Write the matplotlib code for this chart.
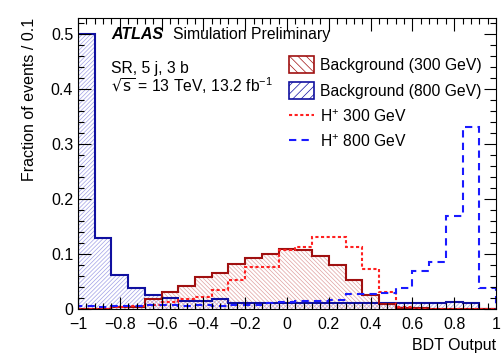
import numpy as np
import matplotlib
matplotlib.use('Agg')
import matplotlib.pyplot as plt
from matplotlib.patches import Patch
from matplotlib.lines import Line2D
from matplotlib.ticker import MultipleLocator

plt.rcParams['font.family'] = ['Liberation Sans', 'DejaVu Sans']
plt.rcParams['hatch.linewidth'] = 0.5

# 25 bins from -1 to 1
edges = np.linspace(-1, 1, 26)

bkg_800 = [0.500, 0.129, 0.062, 0.038, 0.025, 0.020, 0.015, 0.015, 0.018, 0.011,
           0.011, 0.010, 0.010, 0.011, 0.011, 0.010, 0.010, 0.011, 0.010, 0.010,
           0.011, 0.011, 0.013, 0.011, 0.0]
bkg_300 = [0.0, 0.0, 0.003, 0.003, 0.019, 0.031, 0.042, 0.058, 0.065, 0.082,
           0.092, 0.101, 0.110, 0.107, 0.096, 0.080, 0.053, 0.025, 0.009, 0.002,
           0.001, 0.0, 0.0, 0.0, 0.0]
sig_300 = [0.0, 0.0, 0.003, 0.005, 0.007, 0.012, 0.018, 0.022, 0.035, 0.053,
           0.076, 0.076, 0.107, 0.113, 0.131, 0.131, 0.113, 0.072, 0.031, 0.003,
           0.0, 0.0, 0.0, 0.0, 0.0]
sig_800 = [0.005, 0.004, 0.005, 0.006, 0.007, 0.007, 0.006, 0.007, 0.006, 0.007,
           0.008, 0.010, 0.012, 0.015, 0.015, 0.016, 0.027, 0.027, 0.030, 0.039,
           0.070, 0.086, 0.169, 0.331, 0.039]

red_dark = '#a01010'
blue_dark = '#1010a0'
red_light = '#e0a0a0'
blue_light = '#a0a0e6'

fig = plt.figure(figsize=(5.01, 3.6), dpi=100)
ax = fig.add_axes([0.1557, 0.1417, 0.8343, 0.8083])

# hatched fills
ax.stairs(bkg_800, edges, fill=True, facecolor='none', edgecolor=blue_light,
          hatch='////////', linewidth=0)
ax.stairs(bkg_300, edges, fill=True, facecolor='none', edgecolor=red_light,
          hatch='\\\\\\\\\\\\\\\\', linewidth=0)
# outlines
ax.stairs(bkg_800, edges, color=blue_dark, linewidth=1.5)
ax.stairs(bkg_300, edges, color=red_dark, linewidth=1.5)
ax.stairs(sig_300, edges, color='#ff2020', linewidth=1.5, linestyle=(0, (1.5, 1.2)))
ax.stairs(sig_800, edges, color='#1a1aff', linewidth=1.5, linestyle=(0, (3.5, 2.5)))

ax.set_xlim(-1, 1)
ax.set_ylim(0, 0.53)
ax.xaxis.set_major_locator(MultipleLocator(0.2))
ax.xaxis.set_minor_locator(MultipleLocator(0.04))
ax.yaxis.set_major_locator(MultipleLocator(0.1))
ax.yaxis.set_minor_locator(MultipleLocator(0.02))
ax.set_xticks([-1, -0.8, -0.6, -0.4, -0.2, 0, 0.2, 0.4, 0.6, 0.8, 1])
ax.set_xticklabels(['\u22121', '\u22120.8', '\u22120.6', '\u22120.4', '\u22120.2',
                    '0', '0.2', '0.4', '0.6', '0.8', '1'])
ax.set_yticks([0, 0.1, 0.2, 0.3, 0.4, 0.5])
ax.set_yticklabels(['0', '0.1', '0.2', '0.3', '0.4', '0.5'])
ax.tick_params(which='both', direction='in', top=True, right=True, labelsize=11.5)
ax.tick_params(which='major', length=9, width=0.8)
ax.tick_params(which='minor', length=4.5, width=0.8)
ax.tick_params(axis='x', pad=6)
for s in ax.spines.values():
    s.set_linewidth(0.8)

ax.set_xlabel('BDT Output', fontsize=11.5, loc='right', labelpad=4)
ax.set_ylabel('Fraction of events / 0.1', fontsize=11.5, loc='top', labelpad=10)

ax.text(0.08, 0.945, 'ATLAS', transform=ax.transAxes, fontsize=11.5,
        fontweight='bold', fontstyle='italic', va='center')
ax.text(0.228, 0.945, 'Simulation Preliminary', transform=ax.transAxes,
        fontsize=11.3, va='center')
ax.text(0.08, 0.828, 'SR, 5 j, 3 b', transform=ax.transAxes, fontsize=11.3,
        va='center')
ax.text(0.08, 0.766, r'$\sqrt{\mathrm{s}}$ = 13 TeV, 13.2 fb$^{\mathregular{-1}}$',
        transform=ax.transAxes, fontsize=11.3, va='center')

handles = [
    Patch(facecolor='white', edgecolor=red_dark, hatch='\\\\\\\\', linewidth=1.2),
    Patch(facecolor='white', edgecolor=blue_dark, hatch='////', linewidth=1.2),
    Line2D([], [], color='#ff2020', linewidth=1.5, linestyle=(0, (1.5, 1.2))),
    Line2D([], [], color='#1a1aff', linewidth=1.5, linestyle=(0, (3.5, 2.5))),
]
labels = ['Background (300 GeV)', 'Background (800 GeV)',
          r'H$^{\mathregular{+}}$ 300 GeV', r'H$^{\mathregular{+}}$ 800 GeV']
ax.legend(handles, labels, loc='upper left', bbox_to_anchor=(0.49, 0.89),
          frameon=False, fontsize=11.3, handlelength=1.6, handleheight=1.3,
          handletextpad=0.4, labelspacing=0.55, borderaxespad=0)

fig.savefig('out.png', dpi=100)
